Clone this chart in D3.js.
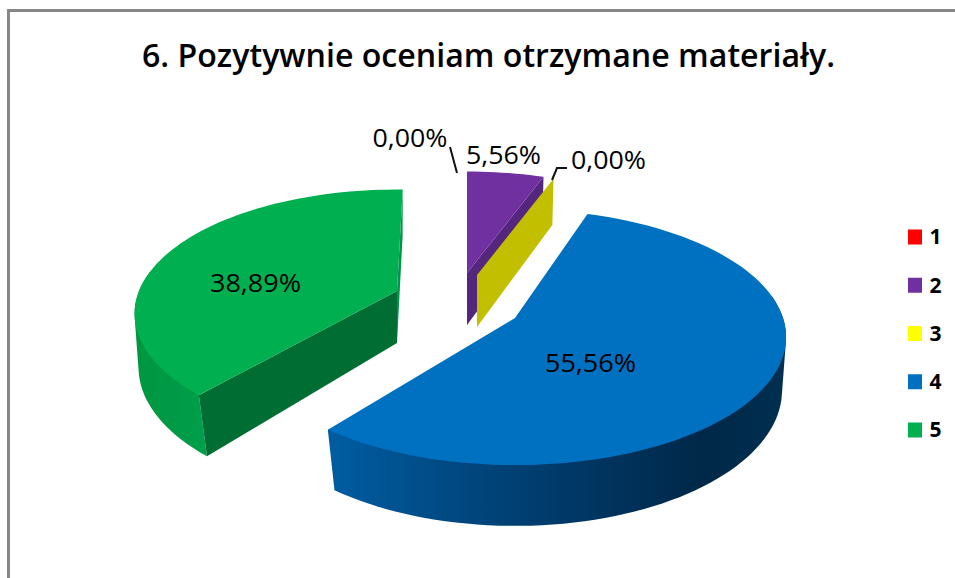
<!DOCTYPE html>
<html>
<head>
<meta charset="utf-8">
<script src="https://cdn.jsdelivr.net/npm/d3@7"></script>
<style>
html,body{margin:0;padding:0;background:#fff;overflow:hidden}
svg{display:block}
text{font-family:"Open Sans",Lato,sans-serif;fill:#000}
</style>
</head>
<body>
<svg id="chart" width="955" height="578"></svg>
<script>
const titleText = "6. Pozytywnie oceniam otrzymane materiały.";
const categories = ["1", "2", "3", "4", "5"];
const percentages = [0, 5.56, 0, 55.56, 38.89];
const topColors = ["#ff0000", "#7030a0", "#ffff00", "#0070c0", "#00b050"];

const W = 955, H = 578;
const svg = d3.select("#chart");

// layout of each exploded slice: apex on screen, perspective, small rotation in radians
const deg = Math.PI / 180;
const geom = [
  {cx: 467, cy: 273, A: 262, B: 120, k: 0.183, rot: 0, bRot: 0},
  {cx: 467, cy: 273, A: 262, B: 120, k: 0.183, rot: 0, bRot: 0},
  {cx: 477, cy: 275, A: 262, B: 120, k: 0.183, rot: 0, bRot: 0},
  {cx: 515, cy: 318, A: 268, B: 125, k: 0.15, rot: -2 * deg, bRot: -3 * deg},
  {cx: 397, cy: 291, A: 258, B: 120, k: 0.183, rot: 1.5 * deg, bRot: 0}
];
const bottom = {sx: 0.985, sy: 1.06, dy: 52};

function project(g, angle, isBottom) {
  const a = angle + (isBottom ? g.bRot : g.rot);
  const s = Math.sin(a), u = -Math.cos(a);
  const w = 1 - g.k * u;
  const sx = isBottom ? bottom.sx : 1, sy = isBottom ? bottom.sy : 1, dy = isBottom ? bottom.dy : 0;
  return [g.cx + sx * g.A * s / w, g.cy + dy + sy * g.B * u / w];
}
function arcAngles(a0, a1) {
  const n = Math.max(2, Math.ceil((a1 - a0) / (2 * deg)));
  return d3.range(n + 1).map(i => a0 + (a1 - a0) * i / n);
}
const line = d3.line().curve(d3.curveLinear);
const closed = pts => line(pts) + "Z";

const slices = d3.pie().sort(null).value(d => d)(percentages);
const fmt = d3.formatLocale({decimal: ",", thousands: " ", grouping: [3], currency: ["", ""]}).format(".2f");

// gradients for the outer walls
const defs = svg.append("defs");
function wallGradient(id, x1, x2, stops) {
  const gr = defs.append("linearGradient").attr("id", id)
    .attr("gradientUnits", "userSpaceOnUse")
    .attr("x1", x1).attr("x2", x2).attr("y1", 0).attr("y2", 0);
  stops.forEach(([o, c]) => gr.append("stop").attr("offset", o).attr("stop-color", c));
}
wallGradient("wall3", 327, 786, [[0, "#005da2"], [0.3, "#00477f"], [0.6, "#00345f"], [0.82, "#002848"], [1, "#002f50"]]);
wallGradient("wall4", 134, 210, [[0, "#00963f"], [0.5, "#009a46"], [1, "#00a04c"]]);
const outerFill = ["none", "none", "none", "url(#wall3)", "url(#wall4)"];
const sideWall = ["none", "#55267e", "#c2be00", "none", "#00964a"];
const cutFront = ["none", "none", "none", "none", "#006e33"];

const pie = svg.append("g");

// back to front: green, purple, yellow, blue
[4, 1, 2, 3].forEach(i => {
  const d = slices[i], g = geom[i];
  const gs = pie.append("g").attr("class", "slice-" + categories[i]);
  const apexT = [g.cx, g.cy], apexB = [g.cx, g.cy + bottom.dy];
  const angles = arcAngles(d.startAngle, d.endAngle);

  if (outerFill[i] !== "none") {
    // silhouette of the near part of the rim: top arc and bottom arc with their tangents
    const near = angles.filter(a => Math.cos(a) <= 0.15);
    const hull = d3.polygonHull(near.map(a => project(g, a, false)).concat(near.map(a => project(g, a, true))));
    gs.append("path").attr("d", closed(hull)).attr("fill", outerFill[i]);
  }
  if (sideWall[i] !== "none") {
    const sideG = Object.assign({}, g, {bRot: g.rot});
    gs.append("path").attr("d", closed([apexT, project(g, d.endAngle, false), project(sideG, d.endAngle, true), apexB])).attr("fill", sideWall[i]);
  }
  if (cutFront[i] !== "none") {
    gs.append("path").attr("d", closed([apexT, project(g, d.startAngle, false), project(g, d.startAngle, true), apexB])).attr("fill", cutFront[i]);
  }
  if (d.endAngle > d.startAngle) {
    const face = [apexT].concat(angles.map(a => project(g, a, false)));
    gs.append("path").attr("d", closed(face)).attr("fill", topColors[i]);
  }
});

// frame
svg.append("path").attr("d", `M8.5,${H}V10.5H${W}`).attr("fill", "none").attr("stroke", "#868686").attr("stroke-width", 3);

// title
svg.append("text").attr("x", 488.5).attr("y", 67).attr("text-anchor", "middle")
  .attr("font-size", 32).attr("font-weight", 600)
  .attr("textLength", 693).attr("lengthAdjust", "spacingAndGlyphs").text(titleText);

// data labels
const labelPos = [
  {x: 410, y: 138}, {x: 503.5, y: 155}, {x: 608.5, y: 160}, {x: 590.5, y: 363}, {x: 255.5, y: 283}
];
svg.append("g").selectAll("text").data(slices).join("text")
  .attr("x", (d, i) => labelPos[i].x).attr("y", (d, i) => labelPos[i].y)
  .attr("dy", "0.35em").attr("text-anchor", "middle").attr("font-size", 26)
  .attr("textLength", d => d.data >= 10 ? 91 : 75).attr("lengthAdjust", "spacingAndGlyphs")
  .text(d => fmt(d.data) + "%");

// leader lines of the zero slices
const leaders = [[[450, 147], [457, 173]], [[552, 180], [557, 168], [567, 168]]];
svg.append("g").selectAll("path").data(leaders).join("path")
  .attr("d", d => line(d)).attr("fill", "none").attr("stroke", "#111").attr("stroke-width", 2);

// legend
const legendY = d3.scalePoint().domain(categories).range([237, 430]);
const legend = svg.append("g").selectAll("g").data(categories).join("g")
  .attr("transform", d => `translate(0,${legendY(d)})`);
legend.append("rect").attr("x", 908).attr("y", -7.5).attr("width", 14).attr("height", 15)
  .attr("fill", (d, i) => topColors[i]);
legend.append("text").attr("x", 929.5).attr("dy", "0.35em").attr("font-size", 21).attr("font-weight", 700).text(d => d);
</script>
</body>
</html>
